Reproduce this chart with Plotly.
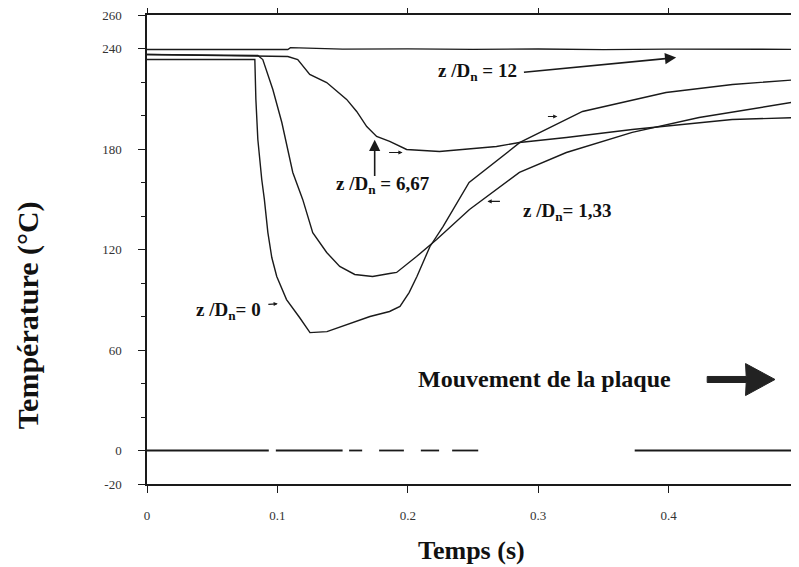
import plotly.graph_objects as go

# ---- data ----
t_12 = [0, 0.05, 0.108, 0.11, 0.15, 0.2, 0.25, 0.3, 0.35, 0.4, 0.45, 0.5]
T_12 = [239.4, 239.2, 239.4, 240.5, 239.6, 239.8, 239.5, 239.7, 239.3, 239.6, 239.4, 239.5]

t_667 = [0, 0.108, 0.1156, 0.1248, 0.1378, 0.1531, 0.1608, 0.1685, 0.1761, 0.1861, 0.1991,
         0.2243, 0.268, 0.2856, 0.3216, 0.3721, 0.4487, 0.4992]
T_667 = [236.4, 235.2, 233.4, 224.5, 219.7, 209.6, 202.4, 193.4, 187.5, 184.5, 179.7,
         178.5, 181.5, 183.9, 186.9, 191.6, 197.6, 198.8]

t_133 = [0, 0.085, 0.0888, 0.0965, 0.1034, 0.1118, 0.1194, 0.1271, 0.1378, 0.1478, 0.1593,
         0.1730, 0.1861, 0.1914, 0.2067, 0.2221, 0.2473, 0.2856, 0.3216, 0.3721, 0.4234, 0.4992]
T_133 = [236.4, 235.8, 233.4, 215.5, 195.8, 166.0, 149.9, 130.1, 118.2, 109.9, 105.1,
         103.9, 105.7, 106.3, 115.8, 126.0, 143.9, 166.0, 177.9, 189.9, 198.8, 208.4]

t_0 = [0, 0.0827, 0.0835, 0.085, 0.088, 0.090, 0.0927, 0.0957, 0.0995, 0.107, 0.117, 0.125,
       0.138, 0.153, 0.171, 0.186, 0.194, 0.201, 0.207, 0.217, 0.227, 0.247, 0.286, 0.334,
       0.398, 0.449, 0.5]
T_0 = [233.4, 233.4, 209.6, 185.7, 161.8, 149.9, 130.1, 115.2, 103.9, 90.1, 79.4, 70.4,
       71.0, 75.2, 80.0, 83.0, 86.0, 94.3, 103.9, 121.8, 133.7, 160.0, 183.9, 202.4,
       213.7, 218.5, 221.5]

# broken zero reference line
t_zero = [0, 0.0934, None, 0.0988, 0.150, None, 0.155, 0.165, None, 0.178, 0.197, None,
          0.210, 0.224, None, 0.234, 0.254, None, 0.374, 0.5]
T_zero = [0, 0, None, 0, 0, None, 0, 0, None, 0, 0, None, 0, 0, None, 0, 0, None, 0, 0]

x_ticks = [0, 0.1, 0.2, 0.3, 0.4, 0.5]
x_ticktext = ["0", "0.1", "0.2", "0.3", "0.4", "0.5"]
y_ticks = [-20, 0, 60, 120, 180, 240, 260]
y_ticktext = ["-20", "0", "60", "120", "180", "240", "260"]

INK = "#1a1a1a"
SERIF = "Liberation Serif"

fig = go.Figure()
for tx, ty in [(t_12, T_12), (t_667, T_667), (t_133, T_133), (t_0, T_0)]:
    fig.add_trace(go.Scatter(x=tx, y=ty, mode="lines",
                             line=dict(color=INK, width=1.4), hoverinfo="skip"))
fig.add_trace(go.Scatter(x=t_zero, y=T_zero, mode="lines",
                         line=dict(color=INK, width=1.8), hoverinfo="skip"))

lab_font = dict(family=SERIF, size=19, color="#111")
annos = [
    dict(x=0.2534, y=225.7, text="<b>z /D<sub>n</sub> = 12</b>"),
    dict(x=0.1807, y=158.8, text="<b>z /D<sub>n</sub> = 6,67</b>"),
    dict(x=0.3224, y=142.1, text="<b>z /D<sub>n</sub>= 1,33</b>"),
    dict(x=0.0628, y=83.0, text="<b>z /D<sub>n</sub>= 0</b>"),
]
for a in annos:
    fig.add_annotation(xref="x", yref="y", showarrow=False, font=lab_font,
                       xanchor="center", yanchor="middle", **a)

fig.add_annotation(xref="x", yref="y", x=0.3047, y=42.4, showarrow=False,
                   text="<b>Mouvement de la plaque</b>",
                   font=dict(family=SERIF, size=24, color="#111"))

# arrows
arrows = [
    dict(ax=0.2879, ay=225.7, x=0.4058, y=234.6, arrowsize=1.4, arrowwidth=1.6),
    dict(ax=0.1746, ay=163.0, x=0.1746, y=185.5, arrowsize=1.4, arrowwidth=1.6),
    dict(ax=0.1845, ay=177.9, x=0.1960, y=177.9, arrowsize=0.7, arrowwidth=1.2),
    dict(ax=0.0919, ay=87.2, x=0.1003, y=87.6, arrowsize=0.7, arrowwidth=1.2),
    dict(ax=0.2718, ay=148.7, x=0.2611, y=148.7, arrowsize=0.7, arrowwidth=1.2),
    dict(ax=0.3063, ay=199.4, x=0.3147, y=199.4, arrowsize=0.7, arrowwidth=1.2),
]
for a in arrows:
    fig.add_annotation(xref="x", yref="y", axref="x", ayref="y", text="",
                       showarrow=True, arrowhead=2, arrowcolor=INK, **a)

# big movement arrow
fig.add_shape(type="path", xref="x", yref="y",
              path="M 0.4296 44.2 L 0.4595 44.2 L 0.4590 51.9 L 0.4816 42.4 "
                   "L 0.4590 32.8 L 0.4595 40.6 L 0.4296 40.6 Z",
              fillcolor="#222", line=dict(color="#222", width=1))

fig.add_annotation(xref="paper", yref="paper", x=-0.1825, y=0.36, showarrow=False,
                   text="<b>Température (°C)</b>", textangle=-90,
                   font=dict(family=SERIF, size=30, color="#111"),
                   xanchor="center", yanchor="middle")
fig.add_annotation(xref="paper", yref="paper", x=0.497, y=-0.141, showarrow=False,
                   text="<b>Temps (s)</b>",
                   font=dict(family=SERIF, size=26, color="#111"),
                   xanchor="center", yanchor="middle")

tick_font = dict(family=SERIF, size=13, color="#333")
# the page body has an 8px default margin, so the figure is sized to fit the window
fig.update_layout(
    width=791, height=559,
    margin=dict(l=139, r=0, t=7, b=83),
    paper_bgcolor="white", plot_bgcolor="white",
    showlegend=False,
    xaxis=dict(range=[0, 0.5], tickvals=x_ticks, ticktext=x_ticktext, automargin=False,
               showgrid=False, zeroline=False, showline=True, linecolor=INK,
               linewidth=1.5, mirror="ticks", ticks="outside", ticklen=7,
               tickcolor=INK, tickfont=tick_font, ticklabelstandoff=12,
               ticklabeloverflow="allow"),
    yaxis=dict(range=[-20, 260], tickvals=y_ticks, ticktext=y_ticktext, automargin=False,
               showgrid=False, zeroline=False, showline=True, linecolor=INK,
               linewidth=1.5, ticks="outside", ticklen=7, tickcolor=INK,
               tickfont=tick_font, ticklabelstandoff=14, ticklabeloverflow="allow",
               minor=dict(tickvals=[20, 40, 80, 100, 140, 160, 200, 220],
                          ticks="outside", ticklen=4, tickcolor=INK)),
)

fig.write_html("out.html")
